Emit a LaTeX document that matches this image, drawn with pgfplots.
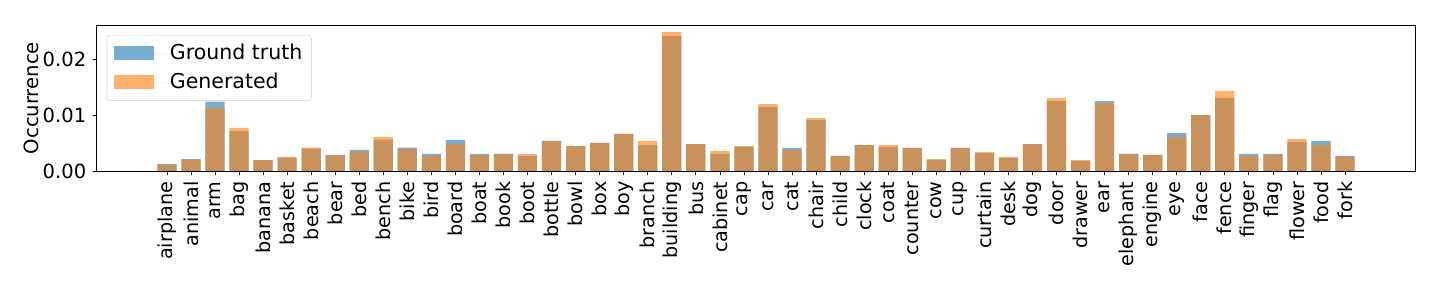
\documentclass[border=0pt]{standalone}
\usepackage{fontspec}
\setmainfont{DejaVu Sans}
\usepackage{pgfplots}
\pgfplotsset{compat=1.18}
\definecolor{mblue}{HTML}{1F77B4}
\definecolor{morange}{HTML}{FF7F0E}
\begin{document}
\fontsize{19}{23}\selectfont
\begin{tikzpicture}
\begin{axis}[
  at={(0pt,0pt)}, anchor=south west,
  scale only axis, width=1318.3pt, height=145.7pt,
  xmin=-2.92, xmax=51.91, ymin=0, ymax=0.02602,
  ybar, bar width=0.8, bar shift=0pt,
  xtick={0,...,49},
  xticklabels={airplane,animal,arm,bag,banana,basket,beach,bear,bed,bench,bike,bird,board,boat,book,boot,bottle,bowl,box,boy,branch,building,bus,cabinet,cap,car,cat,chair,child,clock,coat,counter,cow,cup,curtain,desk,dog,door,drawer,ear,elephant,engine,eye,face,fence,finger,flag,flower,food,fork},
  xticklabel style={rotate=90, anchor=east, font=\fontsize{19.2}{23}\selectfont},
  ytick={0,0.01,0.02},
  scaled y ticks=false,
  yticklabel style={font=\fontsize{19.5}{23}\selectfont, /pgf/number format/fixed, /pgf/number format/fixed zerofill, /pgf/number format/precision=2, /pgf/number format/assume math mode=true},
  tick align=outside, major tick length=4pt,
  xtick pos=left, ytick pos=left,
  tick style={black, line width=0.8pt},
  axis line style={line width=0.8pt, black},
  ylabel={Occurrence},
  ylabel style={at={(axis description cs:-0.0495,0.5)}, anchor=center, font=\fontsize{19.6}{23}\selectfont},
  legend style={at={(0.0076,0.933)}, anchor=north west, draw=black!20, rounded corners=3pt,
    fill=white, fill opacity=0.8, text opacity=1, font=\fontsize{20.5}{24}\selectfont,
    inner xsep=7pt, inner ysep=7pt, row sep=6.5pt, cells={anchor=west, inner xsep=4pt}},
  legend image code/.code={\fill[#1, sharp corners] (0pt,-7pt) rectangle (40pt,7pt); \path (0pt,0pt) -- (54pt,0pt);},
]
\addplot[fill=mblue, fill opacity=0.6, draw=none] coordinates {
(0,0.00125) (1,0.00214) (2,0.01238) (3,0.00714) (4,0.00196) (5,0.00238) (6,0.00399) (7,0.00286) (8,0.00375) (9,0.00560)
(10,0.00417) (11,0.00304) (12,0.00554) (13,0.00304) (14,0.00304) (15,0.00268) (16,0.00536) (17,0.00446) (18,0.00500) (19,0.00661)
(20,0.00464) (21,0.02411) (22,0.00482) (23,0.00304) (24,0.00429) (25,0.01143) (26,0.00411) (27,0.00911) (28,0.00268) (29,0.00464)
(30,0.00429) (31,0.00411) (32,0.00196) (33,0.00411) (34,0.00321) (35,0.00232) (36,0.00482) (37,0.01250) (38,0.00179) (39,0.01250)
(40,0.00304) (41,0.00286) (42,0.00679) (43,0.01000) (44,0.01304) (45,0.00304) (46,0.00304) (47,0.00518) (48,0.00536) (49,0.00268)
};
\addlegendentry{Ground truth}
\addplot[fill=morange, fill opacity=0.6, draw=none] coordinates {
(0,0.00107) (1,0.00202) (2,0.01131) (3,0.00768) (4,0.00196) (5,0.00250) (6,0.00417) (7,0.00280) (8,0.00345) (9,0.00607)
(10,0.00393) (11,0.00274) (12,0.00482) (13,0.00280) (14,0.00304) (15,0.00304) (16,0.00536) (17,0.00446) (18,0.00500) (19,0.00661)
(20,0.00536) (21,0.02482) (22,0.00482) (23,0.00357) (24,0.00446) (25,0.01196) (26,0.00375) (27,0.00946) (28,0.00268) (29,0.00464)
(30,0.00464) (31,0.00411) (32,0.00214) (33,0.00411) (34,0.00339) (35,0.00250) (36,0.00482) (37,0.01304) (38,0.00196) (39,0.01214)
(40,0.00304) (41,0.00286) (42,0.00607) (43,0.01000) (44,0.01429) (45,0.00268) (46,0.00286) (47,0.00571) (48,0.00464) (49,0.00250)
};
\addlegendentry{Generated}
\end{axis}
\pgfresetboundingbox
\useasboundingbox (-96.7pt,-117pt) rectangle (1343.3pt,171pt);
\end{tikzpicture}
\end{document}
